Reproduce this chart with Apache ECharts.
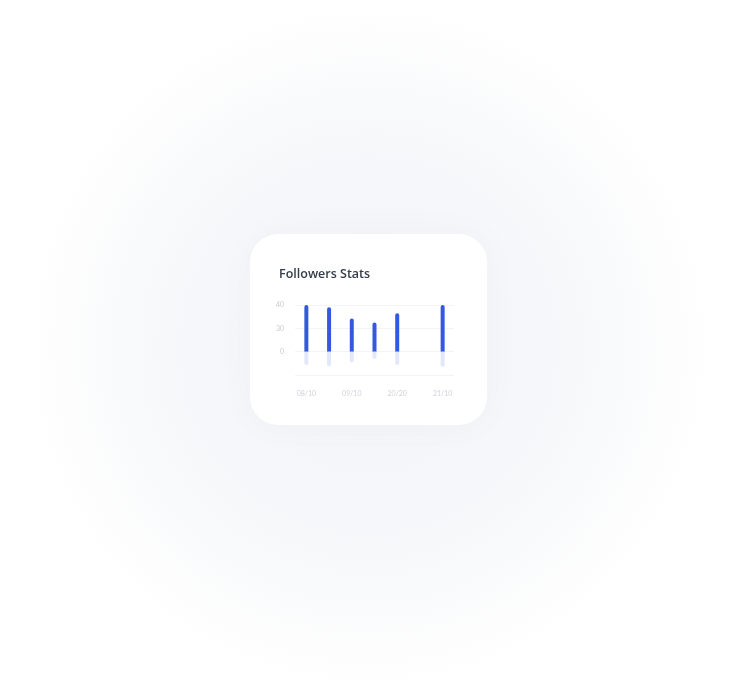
<!DOCTYPE html>
<html>
<head>
<meta charset="utf-8">
<script src="https://cdn.jsdelivr.net/npm/echarts@6/dist/echarts.min.js"></script>
<style>
  html, body { margin: 0; padding: 0; background: #fff; }
  #chart { width: 738px; height: 691px; }
</style>
</head>
<body>
<div id="chart"></div>
<script>
// data
const categories = ['08/10', '', '09/10', '', '20/20', '', '21/10'];
const gained = [40, 38, 28.5, 25, 33, null, 40.5];
const lost = [-11.5, -12.5, -9, -6, -11.5, null, -13];
const yTickLabels = { '40': '40', '20': '30', '0': '0', '-20': '' };

const chart = echarts.init(document.getElementById('chart'));

const option = {
  backgroundColor: '#ffffff',
  animation: false,
  graphic: [
    {
      type: 'rect',
      z: -10,
      shape: { x: 0, y: 0, width: 738, height: 691 },
      style: {
        fill: {
          type: 'radial', x: 0.5, y: 0.5, r: 0.5,
          colorStops: [
            { offset: 0, color: '#f2f3f7' },
            { offset: 0.6, color: '#f7f8fa' },
            { offset: 1, color: '#ffffff' }
          ]
        }
      }
    },
    {
      type: 'rect',
      z: -5,
      shape: { x: 250, y: 234, width: 237, height: 191, r: 28 },
      style: {
        fill: '#ffffff',
        shadowBlur: 30,
        shadowColor: 'rgba(120,130,160,0.05)'
      }
    },
    {
      type: 'text',
      left: 279,
      top: 268,
      style: {
        text: 'Followers Stats',
        fill: '#343b49',
        font: '600 12.5px "Open Sans", sans-serif'
      }
    }
  ],
  grid: {
    left: 295,
    width: 159,
    top: 305,
    height: 70,
    containLabel: false
  },
  xAxis: {
    type: 'category',
    data: categories,
    axisLine: { show: false },
    axisTick: { show: false },
    axisLabel: {
      interval: 0,
      margin: 15,
      color: '#d0d2da',
      fontSize: 7,
      fontFamily: 'Lato, sans-serif'
    }
  },
  yAxis: {
    type: 'value',
    min: -20,
    max: 40,
    interval: 20,
    axisLine: { show: false },
    axisTick: { show: false },
    axisLabel: {
      margin: 11,
      color: '#c8cad2',
      fontSize: 7,
      fontFamily: 'Lato, sans-serif',
      padding: [2, 0, 0, 0],
      formatter: v => yTickLabels[String(v)]
    },
    splitLine: { lineStyle: { color: '#f3f4f7', width: 1 } }
  },
  series: [
    {
      name: 'gained',
      type: 'bar',
      stack: 'f',
      data: gained,
      barWidth: 4,
      itemStyle: { color: '#3359e2', borderRadius: [2, 2, 0, 0] }
    },
    {
      name: 'lost',
      type: 'bar',
      stack: 'f',
      data: lost,
      barWidth: 4,
      itemStyle: { color: '#e3e7fa', borderRadius: [0, 0, 2, 2] }
    }
  ]
};

chart.setOption(option);
</script>
</body>
</html>
